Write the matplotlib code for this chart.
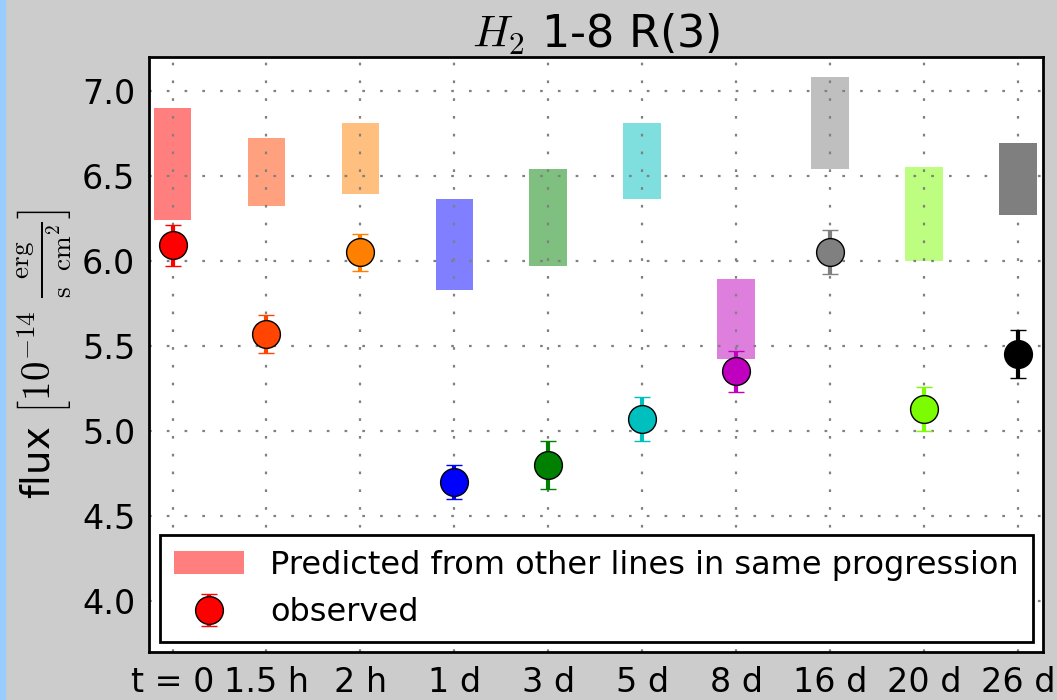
import matplotlib
matplotlib.use('Agg')
import matplotlib.pyplot as plt
from matplotlib.patches import Rectangle
import numpy as np

plt.rcParams['mathtext.fontset'] = 'cm'
plt.rcParams['font.family'] = 'DejaVu Sans'

epochs = ['t = 0', '1.5 h', '2 h', '1 d', '3 d', '5 d', '8 d', '16 d', '20 d', '26 d']
colors = ['red', 'orangered', '#ff8000', 'blue', 'green', 'c', 'm', 'grey', 'lawngreen', 'black']

# predicted range from other lines in the same progression
pred_low = [6.24, 6.32, 6.39, 5.83, 5.97, 6.36, 5.42, 6.54, 6.00, 6.27]
pred_high = [6.90, 6.72, 6.81, 6.36, 6.54, 6.81, 5.89, 7.08, 6.55, 6.69]

# observed flux and error
obs = [6.09, 5.57, 6.05, 4.70, 4.80, 5.07, 5.35, 6.05, 5.13, 5.45]
obs_err = [0.12, 0.11, 0.11, 0.10, 0.14, 0.13, 0.12, 0.13, 0.13, 0.14]

fig = plt.figure(figsize=(10.57, 7.0), dpi=100, facecolor='#cccccc')
fig.subplots_adjust(left=0.141, right=0.987, top=0.919, bottom=0.069)
fig.patches.append(Rectangle((0, 0), 5 / 1057, 1, transform=fig.transFigure,
                             color='#99ccff', zorder=10))
ax = fig.add_subplot(111)

x = np.arange(len(epochs))
for i in x:
    ax.bar(i, pred_high[i] - pred_low[i], bottom=pred_low[i], width=0.4,
           color=colors[i], alpha=0.5, align='center', linewidth=0,
           label='Predicted from other lines in same progression' if i == 0 else None)
    ax.errorbar(i, obs[i], yerr=obs_err[i], fmt='o', color=colors[i],
                ecolor=colors[i], markersize=20, markeredgecolor='k',
                markeredgewidth=1, elinewidth=3, capsize=6, capthick=1.5,
                label='observed' if i == 0 else None, zorder=5)

ax.set_xlim(-0.25, 9.27)
ax.set_ylim(3.7, 7.2)
ax.set_xticks(x)
ax.set_xticklabels(epochs)
ax.set_yticks([4.0, 4.5, 5.0, 5.5, 6.0, 6.5, 7.0])
ax.tick_params(labelsize=24, length=0, pad=10)
ax.grid(True, color='grey', linestyle=(0, (1.2, 6.8)), linewidth=1.6)
for s in ax.spines.values():
    s.set_linewidth(2)

ax.set_title(r'$H_2$ 1-8 R(3)', fontsize=32, pad=6)
ax.set_ylabel(r'flux $\left[10^{-14}\ \frac{\rm erg}{\rm s\ \ cm^2}\right]$', fontsize=28, labelpad=6)

leg = ax.legend(loc='lower center', fontsize=23, numpoints=1, handlelength=2.2,
                fancybox=False, framealpha=1, edgecolor='k', borderpad=0.45,
                borderaxespad=0.3, bbox_to_anchor=(0.5, 0.0))
leg.get_frame().set_linewidth(2)

fig.savefig('out.png', dpi=100, facecolor=fig.get_facecolor())
